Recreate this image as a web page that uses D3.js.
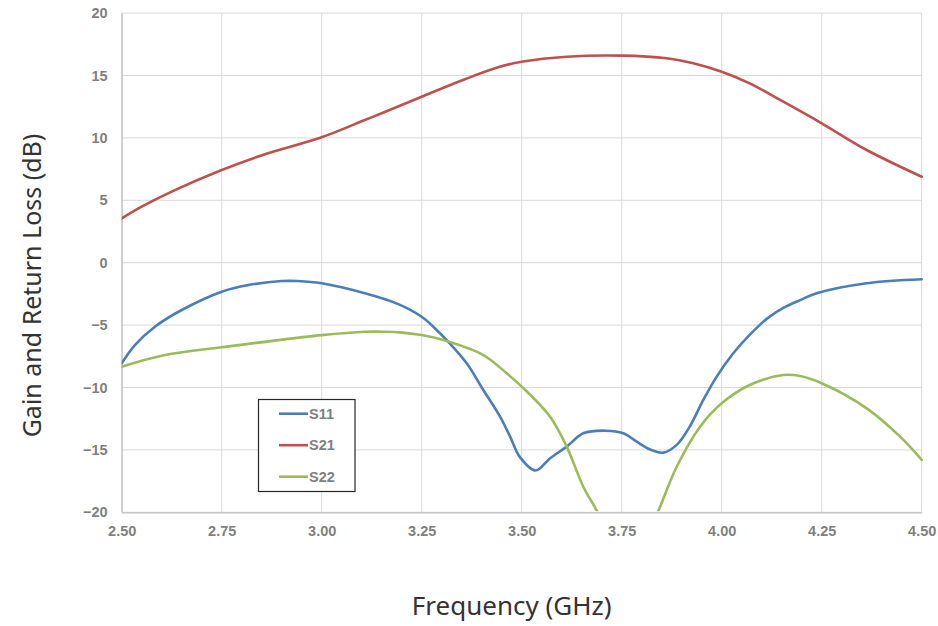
<!DOCTYPE html>
<html><head><meta charset="utf-8">
<script src="https://cdn.jsdelivr.net/npm/d3@7"></script>
<style>body{margin:0;background:#fff}</style>
</head><body><svg id="c" width="938" height="626"></svg>
<script>
const xTicks = [2.50,2.75,3.00,3.25,3.50,3.75,4.00,4.25,4.50];
const yTicks = [-20,-15,-10,-5,0,5,10,15,20];
const seriesNames = ["S11","S21","S22"];
const seriesColors = ["#4a7ebb","#c0504d","#9bbb59"];

const s11Freq = [2.50,2.533,2.583,2.65,2.75,2.817,2.9,2.94,3.00,3.108,3.19,3.25,3.279,3.32,3.3625,3.404,3.446,3.471,3.496,3.535,3.571,3.6125,3.654,3.71,3.754,3.7875,3.82,3.854,3.8875,3.92,3.954,3.9875,4.029,4.071,4.1125,4.154,4.196,4.2375,4.3625,4.5];
const s11 = [-8.06,-6.6,-5.13,-3.79,-2.32,-1.79,-1.47,-1.47,-1.65,-2.45,-3.3,-4.33,-5.13,-6.46,-8.06,-10.2,-12.34,-13.94,-15.6,-16.65,-15.67,-14.74,-13.67,-13.46,-13.67,-14.34,-14.95,-15.22,-14.6,-13.14,-11.0,-9.13,-7.26,-5.75,-4.5,-3.62,-3.0,-2.45,-1.65,-1.33];

const s21Freq = [2.50,2.55,2.625,2.75,2.858,3.00,3.108,3.15,3.25,3.358,3.445,3.5,3.6125,3.75,3.8625,3.929,4.00,4.07,4.154,4.25,4.3625,4.5];
const s21 = [3.56,4.5,5.7,7.43,8.69,10.05,11.43,11.97,13.3,14.7,15.7,16.1,16.5,16.59,16.38,15.98,15.3,14.37,12.9,11.17,9.03,6.89];

const s22Freq = [2.50,2.608,2.75,3.00,3.108,3.15,3.196,3.25,3.304,3.404,3.4625,3.5,3.571,3.6125,3.654,3.69,3.72,3.765,3.81,3.84,3.8875,3.946,4.00,4.07,4.154,4.196,4.25,4.3625,4.446,4.5];
const s22 = [-8.33,-7.4,-6.78,-5.8,-5.53,-5.53,-5.58,-5.8,-6.2,-7.4,-8.86,-9.93,-12.34,-14.74,-17.95,-20.0,-22.0,-23.5,-22.0,-20.0,-16.35,-13.14,-11.27,-9.8,-9.0,-9.08,-9.66,-11.67,-13.94,-15.8];

const series = [
  {name:seriesNames[0], color:seriesColors[0], f:s11Freq, v:s11},
  {name:seriesNames[1], color:seriesColors[1], f:s21Freq, v:s21},
  {name:seriesNames[2], color:seriesColors[2], f:s22Freq, v:s22}
];

const L = 121.7, T = 13.1, R = 921.7, B = 512.3;
const svg = d3.select("#c");
const x = d3.scaleLinear().domain([2.5,4.5]).range([L,R]);
const y = d3.scaleLinear().domain([-20,20]).range([B,T]);

// grid
const g = svg.append("g");
g.selectAll(".vg").data(xTicks).join("line")
  .attr("x1",d=>x(d)).attr("x2",d=>x(d)).attr("y1",T).attr("y2",B)
  .attr("stroke","#d9d9d9").attr("stroke-width",1);
g.selectAll(".hg").data(yTicks).join("line")
  .attr("x1",L).attr("x2",R).attr("y1",d=>y(d)).attr("y2",d=>y(d))
  .attr("stroke","#d9d9d9").attr("stroke-width",1);

// axes
const xAxis = svg.append("g").attr("transform",`translate(0,${B})`)
  .call(d3.axisBottom(x).tickValues(xTicks).tickFormat(d3.format(".2f")).tickSize(0).tickPadding(13));
const yAxis = svg.append("g").attr("transform",`translate(${L},0)`)
  .call(d3.axisLeft(y).tickValues(yTicks).tickSize(0).tickPadding(14));
[xAxis,yAxis].forEach(a=>{
  a.select(".domain").attr("stroke","#bfbfbf").attr("stroke-width",1.2);
  a.selectAll("text").attr("fill","#7f7f7f").attr("font-family","'Liberation Sans', Arial, sans-serif")
   .attr("font-weight","bold").attr("font-size","14.5px");
});

// clip
svg.append("clipPath").attr("id","clip").append("rect")
  .attr("x",L).attr("y",T-3).attr("width",R-L+3).attr("height",B-T+2);

const line = d3.line().curve(d3.curveCatmullRom.alpha(0.5));
const lines = svg.append("g").attr("clip-path","url(#clip)");
series.forEach(s=>{
  lines.append("path")
    .attr("d", line(s.f.map((f,i)=>[x(f), y(s.v[i])])))
    .attr("fill","none").attr("stroke",s.color).attr("stroke-width",2.6)
    .attr("stroke-linejoin","round").attr("stroke-linecap","round");
});

// legend
const lg = svg.append("g");
lg.append("rect").attr("x",258.5).attr("y",399.5).attr("width",96.5).attr("height",92)
  .attr("fill","#fff").attr("stroke","#262626").attr("stroke-width",1.2);
const ly = d3.scalePoint().domain(seriesNames).range([413.7,476.7]);
series.forEach(s=>{
  lg.append("line").attr("x1",279).attr("x2",308).attr("y1",ly(s.name)).attr("y2",ly(s.name))
    .attr("stroke",s.color).attr("stroke-width",2.6);
  lg.append("text").attr("x",309).attr("y",ly(s.name)).attr("dy","0.36em")
    .attr("fill","#7f7f7f").attr("font-family","'Liberation Sans', Arial, sans-serif")
    .attr("font-weight","bold").attr("font-size","14.5px").text(s.name);
});

// titles
svg.append("text").attr("x",511.7).attr("y",615).attr("text-anchor","middle")
  .attr("font-family","'Noto Sans', 'Open Sans', sans-serif").attr("font-size","26px").attr("fill","#333")
  .text("Frequency (GHz)");
svg.append("text").attr("transform","translate(41,285.5) rotate(-90)").attr("text-anchor","middle")
  .attr("font-family","'Noto Sans', 'Open Sans', sans-serif").attr("font-size","25px").attr("fill","#333")
  .text("Gain and Return Loss (dB)");
</script></body></html>
